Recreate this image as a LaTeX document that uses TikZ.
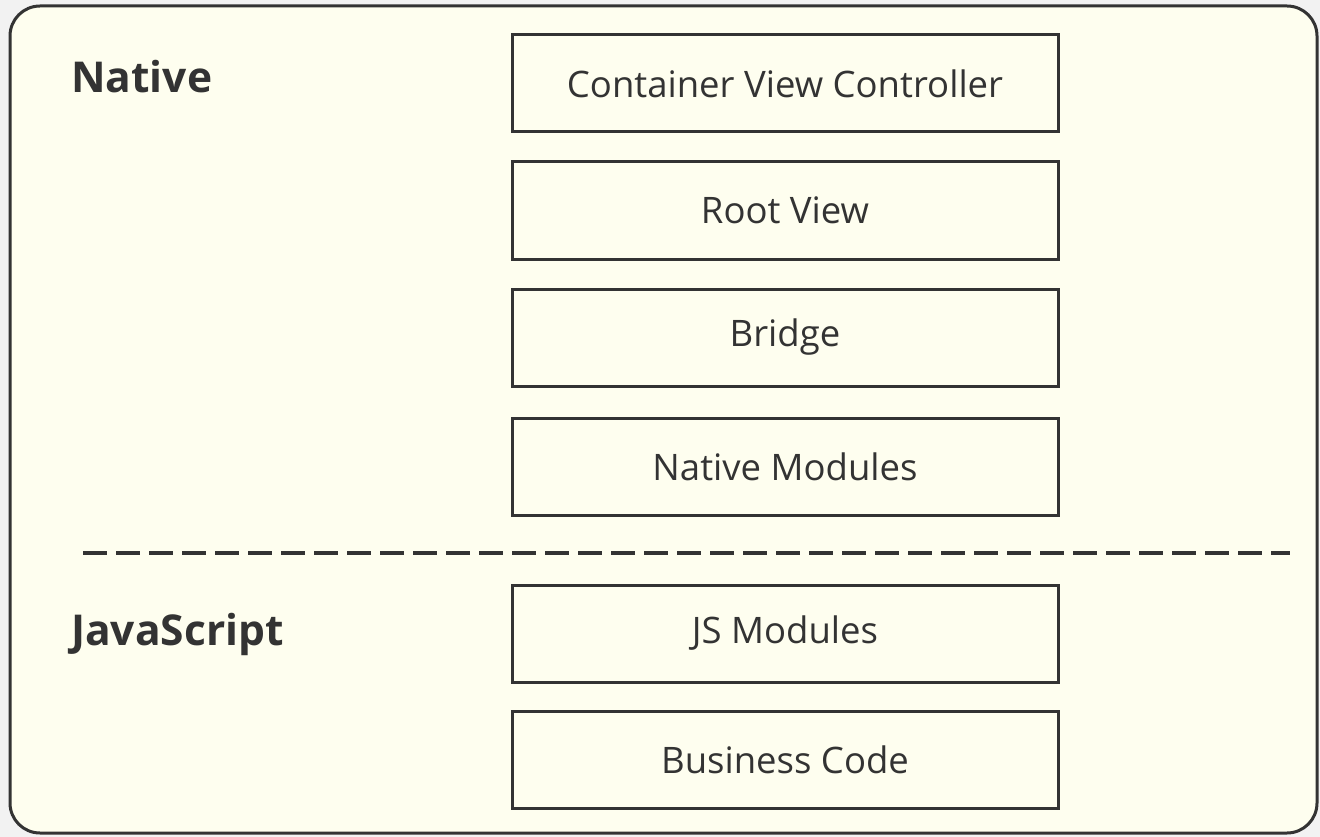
\documentclass[tikz,border=0pt]{standalone}
\usepackage{fontspec}
\setmainfont{Open Sans}
\definecolor{bgout}{HTML}{F2F2F2}
\definecolor{panel}{HTML}{FEFEEF}
\definecolor{ink}{HTML}{333333}
\begin{document}
\begin{tikzpicture}[x=1pt,y=-1pt,
  layer/.style={draw=ink, line width=3pt, fill=panel, minimum width=546pt, minimum height=97pt, inner sep=0pt, text=ink, font=\fontsize{36.5}{42}\selectfont},
  title/.style={anchor=west, text=ink, inner sep=0pt, font=\fontsize{42.5}{48}\selectfont\bfseries}]
\useasboundingbox (0,0) rectangle (1320,837);
\fill[bgout] (0,0) rectangle (1320,837);
\draw[ink, line width=3pt, fill=panel, rounded corners=30pt] (10,6) rectangle (1317,833);
\node[title] (native) at (71,77) {Native};
\node[title] (js) at (71,634) {JavaScript};
\node[layer] (cvc) at (785,83.5) {Container View Controller};
\node[layer] (rv) at (785,210.5) {Root View};
\node[layer] (br) at (785,337.5) {Bridge};
\node[layer] (nm) at (785,466.5) {Native Modules};
\node[layer] (jsm) at (785,633.5) {JS Modules};
\node[layer] (bc) at (785,759.5) {Business Code};
\coordinate (dl) at (83,553);
\coordinate (dr) at (1290,553);
\draw[ink, line width=4pt, dash pattern=on 24pt off 9pt] (dl) -- (dr);
\end{tikzpicture}
\end{document}
